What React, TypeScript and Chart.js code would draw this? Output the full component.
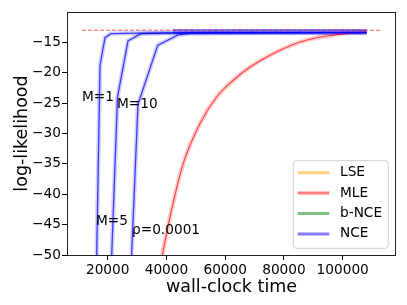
import React, { useEffect, useRef } from 'react';
import { Chart, registerables } from 'chart.js';

Chart.register(...registerables);

// ---- data ----
const xTicks = [20000, 40000, 60000, 80000, 100000];
const yTicks = [-50, -45, -40, -35, -30, -25, -20, -15];

const nceM1Time = [15170, 17380, 19080, 21120, 30000, 50000, 80000, 108160];
const nceM1LL = [-80, -18.8, -14.23, -13.57, -13.47, -13.43, -13.4, -13.38];
const nceM5Time = [19080, 23340, 26910, 31340, 40000, 60000, 85000, 108160];
const nceM5LL = [-80, -24.0, -14.75, -13.57, -13.47, -13.43, -13.4, -13.38];
const nceM10Time = [25520, 30310, 37020, 43930, 48020, 70000, 108160];
const nceM10LL = [-80, -25.2, -15.49, -13.77, -13.52, -13.43, -13.38];
const nceBandTime = [42230, 108160];
const nceBandUpper = [-12.92, -12.92];
const nceBandLower = [-13.42, -13.42];
const mleTime = [36500, 38930, 41210, 45730, 51420, 57100, 62760, 68440, 74120, 79780, 85460, 91140, 96800, 102480, 108160];
const mleLL = [-55.5, -49.18, -43.71, -34.93, -28.36, -23.99, -21.24, -19.06, -17.42, -16.04, -14.95, -14.23, -13.8, -13.47, -13.31];
const refTime = [11240, 113050];
const refLL = [-13, -13];

const legendLabels = ['LSE', 'MLE', 'b-NCE', 'NCE'];
const legendColors = ['rgba(255,165,0,0.5)', 'rgba(255,0,0,0.5)', 'rgba(0,128,0,0.5)', 'rgba(0,0,255,0.5)'];

const annotationTexts = ['M=1', 'M=10', 'M=5', 'ρ=0.0001'];
const annotationX = [11250, 23170, 16020, 28270];
const annotationY = [-24.0, -25.2, -44.4, -45.9];

const FONT = '"DejaVu Sans", sans-serif';

const pts = (xs: number[], ys: number[]) => xs.map((x, i) => ({ x, y: ys[i] }));

const BLUE = 'rgba(0,0,255,0.72)';
const BLUE_BAND = 'rgba(0,0,255,0.18)';
const RED = 'rgba(255,0,0,0.7)';
const RED_BAND = 'rgba(255,0,0,0.2)';

const overlayPlugin = {
  id: 'overlay',
  afterDraw(chart: any) {
    const { ctx, chartArea, scales } = chart;
    const xs = scales.x;
    const ys = scales.y;
    ctx.save();
    // frame
    ctx.strokeStyle = '#222';
    ctx.lineWidth = 1;
    ctx.strokeRect(Math.round(chartArea.left) + 0.5, Math.round(chartArea.top) + 0.5,
      Math.round(chartArea.right - chartArea.left) - 1, Math.round(chartArea.bottom - chartArea.top));
    // annotations
    ctx.fillStyle = '#000';
    ctx.font = `13.7px ${FONT}`;
    ctx.textAlign = 'left';
    ctx.textBaseline = 'middle';
    annotationTexts.forEach((t, i) => {
      ctx.fillText(t, xs.getPixelForValue(annotationX[i]), ys.getPixelForValue(annotationY[i]));
    });
    // legend
    const w = 95;
    const h = 87.6;
    const right = chartArea.right - 7.7;
    const bottom = chartArea.bottom - 6.7;
    const left = right - w;
    const top = bottom - h;
    const r = 3;
    ctx.beginPath();
    ctx.moveTo(left + r, top);
    ctx.lineTo(right - r, top);
    ctx.arcTo(right, top, right, top + r, r);
    ctx.lineTo(right, bottom - r);
    ctx.arcTo(right, bottom, right - r, bottom, r);
    ctx.lineTo(left + r, bottom);
    ctx.arcTo(left, bottom, left, bottom - r, r);
    ctx.lineTo(left, top + r);
    ctx.arcTo(left, top, left + r, top, r);
    ctx.closePath();
    ctx.fillStyle = 'rgba(255,255,255,0.8)';
    ctx.fill();
    ctx.strokeStyle = '#d0d0d0';
    ctx.lineWidth = 1;
    ctx.stroke();
    legendLabels.forEach((lab, i) => {
      const y = top + 12 + i * 20.4;
      ctx.strokeStyle = legendColors[i];
      ctx.lineWidth = 3;
      ctx.beginPath();
      ctx.moveTo(left + 4.4, y);
      ctx.lineTo(left + 36, y);
      ctx.stroke();
      ctx.fillStyle = '#000';
      ctx.font = `13.7px ${FONT}`;
      ctx.textBaseline = 'middle';
      ctx.fillText(lab, left + 46.7, y);
    });
    ctx.restore();
  },
};

export default function App() {
  const ref = useRef<HTMLCanvasElement>(null);
  useEffect(() => {
    document.body.style.margin = '0';
    const canvas = ref.current!;
    const line = (data: any, color: string, width: number, extra: any = {}) => ({
      data,
      borderColor: color,
      borderWidth: width,
      pointRadius: 0,
      fill: false,
      tension: 0,
      ...extra,
    });
    const chart = new Chart(canvas, {
      type: 'line',
      data: {
        datasets: [
          line(pts(refTime, refLL), 'rgba(255,0,0,0.65)', 1, { borderDash: [4, 2] }),
          line(pts(nceM1Time, nceM1LL), BLUE, 1.3),
          line(pts(nceM5Time, nceM5LL), BLUE, 1.3),
          line(pts(nceM10Time, nceM10LL), BLUE, 1.3),
          line(pts(nceBandTime, nceBandUpper), 'rgba(0,0,255,0.6)', 1, { fill: '+1', backgroundColor: 'rgba(0,0,255,0.35)' }),
          line(pts(nceBandTime, nceBandLower), 'rgba(0,0,255,0.6)', 1),
          line(pts(mleTime, mleLL), RED, 1.1, { cubicInterpolationMode: 'monotone' }),
          line(pts(nceM1Time, nceM1LL), BLUE_BAND, 4.5),
          line(pts(nceM5Time, nceM5LL), BLUE_BAND, 4.5),
          line(pts(nceM10Time, nceM10LL), BLUE_BAND, 4.5),
          line(pts(mleTime, mleLL), RED_BAND, 4.5, { cubicInterpolationMode: 'monotone' }),
        ],
      },
      options: {
        responsive: false,
        animation: false,
        events: [],
        layout: { padding: { top: 12, right: 11, left: 0, bottom: 0 } },
        plugins: { legend: { display: false }, tooltip: { enabled: false } },
        scales: {
          x: {
            type: 'linear',
            min: 6145,
            max: 118145,
            afterFit: (s: any) => { s.height = 50; },
            afterBuildTicks: (s: any) => { s.ticks = xTicks.map((v) => ({ value: v })); },
            border: { display: false },
            grid: { drawOnChartArea: false, drawTicks: true, tickLength: 5, tickColor: '#000', tickWidth: 1 },
            ticks: {
              autoSkip: false,
              maxRotation: 0,
              padding: 2,
              color: '#000',
              font: { family: FONT, size: 13.7 },
              callback: (v: any) => String(v),
            },
            title: {
              display: true,
              text: 'wall-clock time',
              color: '#000',
              font: { family: FONT, size: 17.5 },
              padding: { top: 0, bottom: 7.5 },
            },
          },
          y: {
            type: 'linear',
            min: -50,
            max: -10,
            afterFit: (s: any) => { s.width = 67; },
            afterBuildTicks: (s: any) => { s.ticks = yTicks.map((v) => ({ value: v })); },
            border: { display: false },
            grid: { drawOnChartArea: false, drawTicks: true, tickLength: 5, tickColor: '#000', tickWidth: 1 },
            ticks: {
              padding: 1,
              color: '#000',
              font: { family: FONT, size: 13.7 },
              callback: (v: any) => String(v).replace('-', '\u2212'),
            },
            title: {
              display: true,
              text: 'log-likelihood',
              color: '#000',
              font: { family: FONT, size: 17.5 },
              padding: { top: 12, bottom: 0 },
            },
          },
        },
      },
      plugins: [overlayPlugin],
    } as any);
    return () => chart.destroy();
  }, []);
  return (
    <div style={{ width: 407, height: 305 }}>
      <canvas ref={ref} width={407} height={305} style={{ display: 'block', width: 407, height: 305 }} />
    </div>
  );
}
